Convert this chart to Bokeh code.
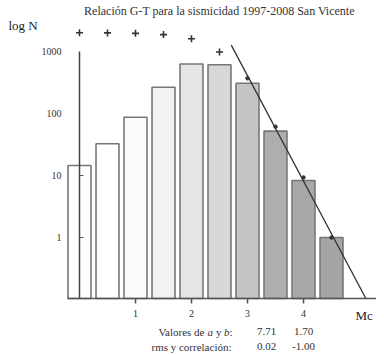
from bokeh.plotting import figure
from bokeh.models import Range1d, ColumnDataSource
from bokeh.core.properties import value
from bokeh.embed import file_html
from bokeh.resources import INLINE
import numpy as np

# ---- data ----
title_text = "Relación G-T para la sismicidad 1997-2008 San Vicente"
magnitudes = [0.0, 0.5, 1.0, 1.5, 2.0, 2.5, 3.0, 3.5, 4.0, 4.5]
counts = [14.5, 32.5, 87, 265, 630, 610, 308, 52, 8.3, 1.0]
bar_colors = ["#ffffff", "#ffffff", "#fbfbfb", "#f2f2f2", "#e6e6e6",
              "#d8d8d8", "#c5c5c5", "#aeaeae", "#a8a8a8", "#a5a5a5"]
x_ticks = [1, 2, 3, 4]
x_tick_labels = ["1", "2", "3", "4"]
y_ticks = [1, 10, 100, 1000]
y_tick_labels = ["1", "10", "100", "1000"]
y_small_ticks = [1, 10]
a_value = 7.71
b_value = 1.70
rms_value = "0.02"
corr_value = "-1.00"
fit_start_m = 2.71
m_completeness = 3.0

FONT = "Liberation Serif"
TXT = "#333333"

cumulative = list(np.cumsum(counts[::-1])[::-1])

# ---- layout: the frame covers the whole canvas (page pixel scale) ----
W, H = 376, 353
X0_PX, X_UNIT_PX = 79.0, 56.0       # pixel of M=0 and pixels per magnitude unit
Y0_PX, Y_DEC_PX = 237.0, 62.0       # pixel of N=1 and pixels per decade
BASE_PX = 298.0                     # baseline pixel


def dx(px):
    return (px - X0_PX) / X_UNIT_PX


def dy(py):
    return 10 ** ((Y0_PX - py) / Y_DEC_PX)


p = figure(width=W, height=H, output_backend="svg", toolbar_location=None,
           title=None, y_axis_type="log",
           x_range=Range1d(dx(0), dx(W)), y_range=Range1d(dy(H), dy(0)),
           min_border=0, x_axis_location=None, y_axis_location=None)
p.outline_line_color = None
p.grid.visible = False
p.background_fill_color = "white"
p.border_fill_color = "white"

ybase = dy(BASE_PX)

# bars
src = ColumnDataSource(dict(x=magnitudes, top=counts, color=bar_colors))
p.vbar(x="x", top="top", bottom=ybase, width=0.41, source=src,
       fill_color="color", line_color="#777777", line_width=1.6)

# vertical axis line at M=0 with small ticks
p.segment(x0=[0], y0=[ybase], x1=[0], y1=[max(y_ticks)], line_color="#444444", line_width=1.5)
p.segment(x0=[0] * len(y_small_ticks), y0=y_small_ticks, x1=[0.07] * len(y_small_ticks),
          y1=y_small_ticks, line_color="#555555", line_width=1.2)

# y tick labels
p.text(x=[dx(61)] * len(y_ticks), y=y_ticks, text=y_tick_labels,
       text_font=value(FONT), text_font_size=value("10px"), text_color=TXT,
       text_align="right", text_baseline="middle")

# x axis (baseline, ticks, labels)
p.segment(x0=[dx(67)], y0=[ybase], x1=[dx(W)], y1=[ybase], line_color="#555555", line_width=1.5)
p.segment(x0=x_ticks, y0=[ybase] * len(x_ticks), x1=x_ticks, y1=[dy(BASE_PX + 5)] * len(x_ticks),
          line_color="#555555", line_width=1.5)
p.text(x=x_ticks, y=[dy(BASE_PX + 15)] * len(x_ticks), text=x_tick_labels,
       text_font=value(FONT), text_font_size=value("10px"), text_color=TXT,
       text_align="center", text_baseline="middle")

# cumulative points
mag = np.array(magnitudes)
cum = np.array(cumulative)
below = mag < m_completeness
p.scatter(mag[below], cum[below], marker="cross", size=7, line_width=1.6, color="#333333")

# fit line
line_end_m = (a_value - np.log10(ybase)) / b_value
fit_m = np.array([fit_start_m, line_end_m])
p.line(fit_m, 10 ** (a_value - b_value * fit_m), line_color="#333333", line_width=1.3)
p.scatter(mag[~below], cum[~below], marker="circle", size=3.5, color="#333333")


def lab(text, px, py, size, align="left", style="normal", color=TXT):
    p.text(x=[dx(px)], y=[dy(py)], text=[text], text_font=value(FONT),
           text_font_size=value(size), text_align=align, text_baseline="middle",
           text_font_style=style, text_color=color)


lab(title_text, 219, 10, "12px", align="center")
lab("log N", 8, 25, "13px", color="#222222")
lab("Mc", 355, 315, "13px", color="#222222")

lab("Valores de", 204, 331, "11px", align="right")
lab("a", 207, 331, "11px", style="italic")
lab("y", 215.5, 331, "11px")
lab("b", 223.5, 331, "11px", style="italic")
lab(":", 229, 331, "11px")
lab("rms y correlación:", 231, 346, "11px", align="right")
lab(f"{a_value:.2f}", 266, 331, "11px", align="center")
lab(f"{b_value:.2f}", 303, 331, "11px", align="center")
lab(rms_value, 266, 346, "11px", align="center")
lab(corr_value, 303, 346, "11px", align="center")

open("out.html", "w").write(file_html(p, INLINE))
